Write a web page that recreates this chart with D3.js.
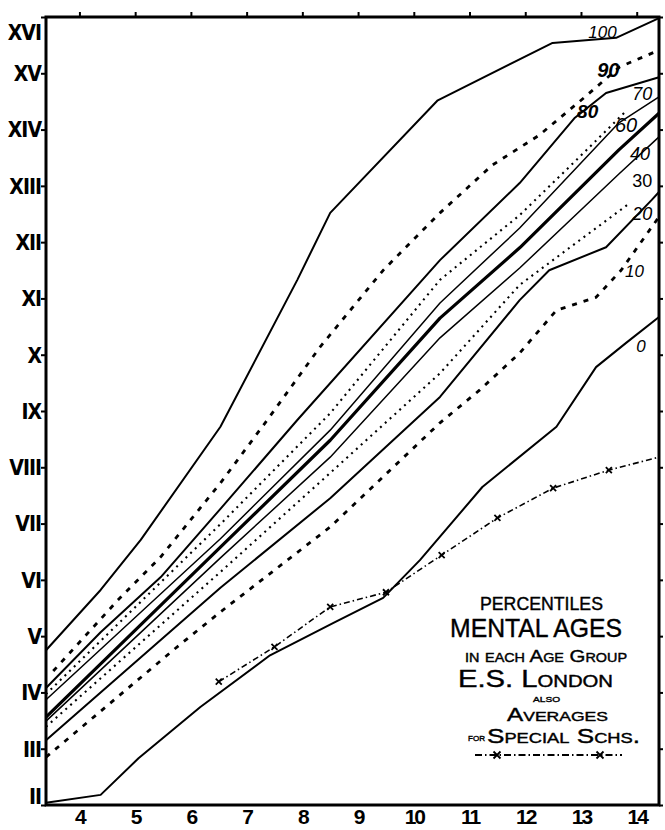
<!DOCTYPE html>
<html><head><meta charset="utf-8">
<script src="https://cdn.jsdelivr.net/npm/d3@7"></script>
<style>
html,body{margin:0;padding:0;background:#fff;}
svg{display:block;}
</style></head><body>
<svg id="chart" width="665" height="830"></svg>
<script>
// ---------- data ----------
const ageTicks = [4,5,6,7,8,9,10,11,12,13,14];
const mentalAgeTicks = [2,3,4,5,6,7,8,9,10,11,12,13,14,15,16];
const romanLabels = ["II","III","IV","V","VI","VII","VIII","IX","X","XI","XII","XIII","XIV","XV","XVI"];
const percentiles = [100,90,80,70,60,50,40,30,20,10,0];

// [chronological age, mental age]
const p100 = [[3.4,4.75],[4.38,5.82],[5.1,6.71],[6.53,8.72],[7.91,11.33],[8.5,12.52],[10.43,14.52],[12.49,15.54],[13.63,15.63],[14.4,15.98]];
const p90  = [[3.53,4.38],[4.69,5.64],[5.46,6.41],[6.53,7.72],[7.37,8.84],[8.32,10.14],[9.45,11.5],[10.47,12.52],[11.41,13.37],[12.25,13.9],[13.06,14.57],[13.69,15.11],[14.4,15.41]];
const p80  = [[3.4,4.08],[4.38,5.07],[5.46,6.05],[6.53,7.26],[7.91,8.84],[10.47,11.68],[11.9,13.05],[12.88,14.2],[13.45,14.65],[14.4,14.93]];
const p70  = [[3.4,3.97],[6.53,6.99],[8.5,8.96],[10.47,11.33],[11.9,12.48],[12.97,13.51],[13.83,14.35]];
const p60  = [[3.4,3.87],[6.53,6.73],[8.5,8.66],[10.47,10.92],[11.9,12.25],[13.68,14.12],[14.4,14.58]];
const p50  = [[3.4,3.56],[6.53,6.58],[8.5,8.48],[10.47,10.65],[11.9,11.9],[13.68,13.64],[14.4,14.29]];
const p40  = [[3.4,3.49],[6.53,6.39],[8.5,8.18],[10.47,10.3],[11.9,11.54],[13.68,13.21],[14.4,13.87]];
const p30  = [[3.4,3.39],[6.53,6.14],[8.5,7.9],[10.47,9.67],[11.9,11.24],[12.74,11.86],[13.83,12.66]];
const p20  = [[3.4,3.15],[6.53,5.86],[8.5,7.45],[10.47,9.25],[11.9,10.97],[12.43,11.5],[13.45,11.91],[14.27,12.75],[14.4,12.89]];
const p10  = [[3.4,2.85],[5.73,4.79],[6.53,5.43],[8.5,6.94],[10.47,8.79],[11.18,9.37],[11.9,10.03],[12.56,10.79],[13.27,11.02],[13.72,11.5],[14.4,12.45]];
const p0   = [[3.4,2.04],[4.38,2.18],[5.06,2.83],[6.17,3.74],[7.42,4.66],[8.55,5.23],[9.45,5.68],[10.11,6.35],[11.23,7.65],[12.56,8.72],[13.27,9.78],[13.81,10.21],[14.4,10.67]];

const specialAges   = [6.5,7.5,8.5,9.5,10.5,11.5,12.5,13.5,14.4];
const specialValues = [4.19,4.81,5.52,5.78,6.44,7.10,7.63,7.95,8.18];

const seriesData = [p100,p90,p80,p70,p60,p50,p40,p30,p20,p10,p0];

// ---------- drawing ----------
const svg = d3.select("#chart");
svg.append("rect").attr("width",665).attr("height",830).attr("fill","#fff");

const x = d3.scaleLinear().domain([3.4,14.4]).range([46,659]);
const y = d3.scaleLinear().domain([2,16]).range([805,17]);

const styleFor = p => {
  if (p === 50) return {w:3.2, dash:null};
  if (p === 90 || p === 10) return {w:2.8, dash:"5,7"};
  if (p === 70 || p === 30) return {w:2.1, dash:"2,4.5"};
  if (p === 60 || p === 40) return {w:1.5, dash:null};
  return {w:2, dash:null};
};

const line = d3.line().x(d => x(d[0])).y(d => y(d[1]));

const g = svg.append("g");
percentiles.forEach((p,i) => {
  const s = styleFor(p);
  g.append("path")
    .attr("d", line(seriesData[i]))
    .attr("fill","none")
    .attr("stroke","#000")
    .attr("stroke-width", s.w)
    .attr("stroke-linejoin","round")
    .attr("stroke-dasharray", s.dash);
});

// special schools averages
const special = specialAges.map((a,i) => [a, specialValues[i]]);
g.append("path")
  .attr("d", line(special))
  .attr("fill","none").attr("stroke","#000")
  .attr("stroke-width",1.6)
  .attr("stroke-dasharray","6,3,1.5,3");
const cross = (sel, cx, cy, r) => {
  sel.append("path")
    .attr("d", `M${cx-r},${cy-r}L${cx+r},${cy+r}M${cx-r},${cy+r}L${cx+r},${cy-r}`)
    .attr("stroke","#000").attr("stroke-width",1.8).attr("fill","none");
};
special.slice(0,8).forEach(d => cross(g, x(d[0]), y(d[1]), 3));

// frame
svg.append("rect")
  .attr("x", x(3.4)).attr("y", y(16))
  .attr("width", x(14.4)-x(3.4)).attr("height", y(2)-y(16))
  .attr("fill","none").attr("stroke","#000").attr("stroke-width",3);

// axes
const leftAxis = svg.append("g").attr("transform",`translate(${x(3.4)},0)`)
  .call(d3.axisLeft(y).tickValues(mentalAgeTicks).tickSize(5).tickPadding(0)
        .tickFormat((d,i) => romanLabels[i]));
leftAxis.select(".domain").remove();
leftAxis.selectAll("line").attr("stroke-width",2);
leftAxis.selectAll("text")
  .attr("font-family","'Liberation Sans Narrow','DejaVu Sans Condensed','Liberation Sans',sans-serif")
  .attr("font-weight","bold").attr("font-size",21).attr("fill","#000")
  .attr("letter-spacing",-1)
  .attr("dy", d => d === 16 ? "1.05em" : (d === 2 ? "-0.05em" : "0.35em"));

const bottomAxis = svg.append("g").attr("transform",`translate(0,${y(2)})`)
  .call(d3.axisBottom(x).tickValues(ageTicks).tickSize(0).tickFormat(d3.format("d")));
bottomAxis.select(".domain").remove();
bottomAxis.selectAll("text")
  .attr("y",19).attr("dy","0")
  .attr("font-family","'Liberation Sans',sans-serif")
  .attr("font-weight","bold").attr("font-size",21).attr("fill","#000")
  .attr("letter-spacing",-2);

const topAxis = svg.append("g").attr("transform",`translate(0,${y(16)})`)
  .call(d3.axisTop(x).tickValues(ageTicks).tickSize(5).tickFormat(""));
topAxis.select(".domain").remove();
topAxis.selectAll("line").attr("stroke-width",2);

const rightAxis = svg.append("g").attr("transform",`translate(${x(14.4)},0)`)
  .call(d3.axisRight(y).tickValues(mentalAgeTicks).tickSize(4).tickFormat(""));
rightAxis.select(".domain").remove();
rightAxis.selectAll("line").attr("stroke-width",2);

// percentile labels (placed in data space near line ends)
const labelPlacement = [
  {t:"100", a:13.13, m:15.63, s:17, it:true,  b:false},
  {t:"90",  a:13.29, m:14.93, s:20, it:true,  b:true},
  {t:"80",  a:12.93, m:14.2,  s:19, it:true,  b:true},
  {t:"70",  a:13.92, m:14.52, s:18, it:true,  b:false},
  {t:"60",  a:13.61, m:13.96, s:20, it:true,  b:false},
  {t:"40",  a:13.88, m:13.46, s:18, it:true,  b:false},
  {t:"30",  a:13.92, m:12.98, s:18, it:false, b:false},
  {t:"20",  a:13.92, m:12.39, s:18, it:true,  b:false},
  {t:"10",  a:13.79, m:11.38, s:17, it:true,  b:false},
  {t:"0",   a:13.99, m:10.05, s:17, it:true,  b:false}
];
svg.append("g").selectAll("text").data(labelPlacement).join("text")
  .attr("x", d => x(d.a)).attr("y", d => y(d.m))
  .attr("font-family","'Liberation Sans',sans-serif")
  .attr("font-size", d => d.s)
  .attr("font-style", d => d.it ? "italic" : "normal")
  .attr("font-weight", d => d.b ? "bold" : "normal")
  .text(d => d.t);

// legend block
const leg = svg.append("g").attr("font-family","'Liberation Sans',sans-serif")
  .attr("fill","#000").attr("stroke","#000").attr("stroke-width",0.4);
const legendLines = [
  {t:"PERCENTILES",       x:480, y:610, s:18, L:123, sc:false},
  {t:"MENTAL AGES",       x:450, y:637, s:26, L:172, sc:false},
  {t:"in each Age Group", x:465, y:662, s:17, L:162, sc:true},
  {t:"E.S. London",       x:458, y:687, s:23, L:155, sc:true},
  {t:"ALSO",              x:533, y:702, s:8,  L:27,  sc:false},
  {t:"Averages",          x:507, y:721, s:18, L:101, sc:true},
  {t:"for",               x:468, y:741, s:12, L:17,  sc:true},
  {t:"Special Schs.",     x:487, y:743, s:20, L:153, sc:true}
];
leg.selectAll("text").data(legendLines).join("text")
  .attr("x", d => d.x).attr("y", d => d.y)
  .attr("font-size", d => d.s)
  .attr("font-variant", d => d.sc ? "small-caps" : "normal")
  .attr("textLength", d => d.L).attr("lengthAdjust","spacingAndGlyphs")
  .text(d => d.t);
leg.append("line").attr("x1",475).attr("x2",622).attr("y1",755).attr("y2",755)
  .attr("stroke","#000").attr("stroke-width",1.8).attr("stroke-dasharray","7,3,1.5,3");
cross(leg, 497, 755, 3.5);
cross(leg, 600, 755, 3.5);
</script>
</body></html>
